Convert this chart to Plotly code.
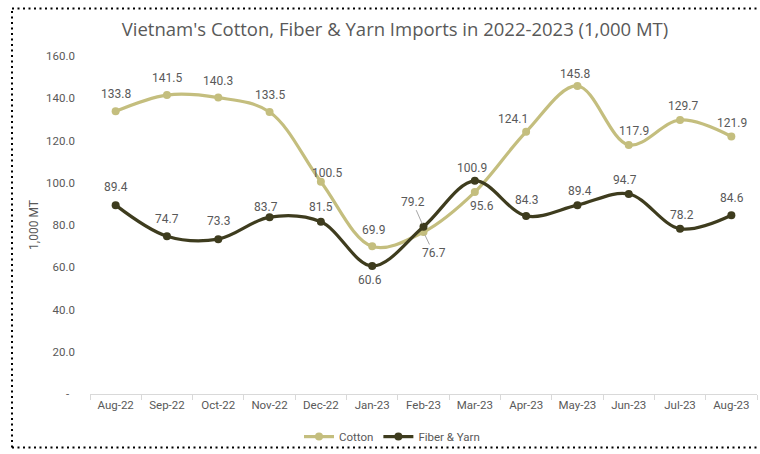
import plotly.graph_objects as go

# Monthly imports, thousand metric tonnes
months = ["Aug-22", "Sep-22", "Oct-22", "Nov-22", "Dec-22", "Jan-23", "Feb-23",
          "Mar-23", "Apr-23", "May-23", "Jun-23", "Jul-23", "Aug-23"]
cotton = [133.8, 141.5, 140.3, 133.5, 100.5, 69.9, 76.7, 95.6, 124.1, 145.8, 117.9, 129.7, 121.9]
fiber_yarn = [89.4, 74.7, 73.3, 83.7, 81.5, 60.6, 79.2, 100.9, 84.3, 89.4, 94.7, 78.2, 84.6]

y_ticks = [0, 20, 40, 60, 80, 100, 120, 140, 160]
y_tick_text = ["-\u2002"] + [f"{v:.1f}" for v in y_ticks[1:]]

# Label offsets in pixels (dx, dy), dy positive = upward
cotton_offsets = [(0, 17), (0, 17), (0, 17), (0, 17), (6, 9), (1, 16), (10, -21),
                  (7, -14), (-13, 13), (-2, 12), (5, 14), (3, 14), (1, 13)]
fiber_offsets = [(0, 18), (0, 17), (0, 18), (-4, 10), (0, 15), (-2, -14), (-11, 25),
                 (-3, 13), (0, 16), (3, 14), (-4, 14), (2, 14), (1, 17)]

COTTON_COLOR = "#C4BE7E"
FIBER_COLOR = "#3E3C1E"
TEXT_COLOR = "#595959"
LABEL_FONT = "Roboto, Liberation Sans, sans-serif"

fig = go.Figure()
fig.add_trace(go.Scatter(
    x=months, y=cotton, name="Cotton", mode="lines+markers",
    line=dict(color=COTTON_COLOR, width=3.2, shape="spline", smoothing=1.0),
    marker=dict(color=COTTON_COLOR, size=8),
))
fig.add_trace(go.Scatter(
    x=months, y=fiber_yarn, name="Fiber & Yarn", mode="lines+markers",
    line=dict(color=FIBER_COLOR, width=3.2, shape="spline", smoothing=1.0),
    marker=dict(color=FIBER_COLOR, size=8),
))

annotations = []
leader_months = {"Feb-23"}
for series, offsets in ((cotton, cotton_offsets), (fiber_yarn, fiber_offsets)):
    for m, v, (dx, dy) in zip(months, series, offsets):
        base = dict(x=m, y=v, xref="x", yref="y", text=f"{v:.1f}",
                    font=dict(family=LABEL_FONT, size=12, color=TEXT_COLOR))
        if m in leader_months:
            annotations.append(dict(base, showarrow=True, ax=dx, ay=-dy,
                                    arrowhead=0, arrowwidth=1, arrowcolor="#A6A6A6",
                                    standoff=3, startstandoff=0))
        else:
            annotations.append(dict(base, showarrow=False, xshift=dx, yshift=dy))

fig.update_layout(
    width=760, height=454,
    margin=dict(l=90, r=3, t=56, b=57),
    paper_bgcolor="white", plot_bgcolor="white",
    title=dict(text="Vietnam's Cotton, Fiber & Yarn Imports in 2022-2023 (1,000 MT)",
               x=395 / 760, xanchor="center", y=1 - 30 / 454, yanchor="middle",
               font=dict(family="Open Sans, sans-serif", size=18.5, color=TEXT_COLOR)),
    showlegend=True,
    legend=dict(orientation="h", x=(392 - 90) / 667, xanchor="center",
                y=-(440 - 397) / 341, yanchor="middle",
                font=dict(family=LABEL_FONT, size=11.5, color=TEXT_COLOR),
                itemwidth=30, tracegroupgap=0, bgcolor="rgba(0,0,0,0)"),
    annotations=annotations,
    xaxis=dict(type="category", categoryorder="array", categoryarray=months,
               range=[-0.5, 12.5], showgrid=False, zeroline=False,
               showline=True, linecolor="#D9D9D9", linewidth=1,
               ticks="outside", tickson="boundaries", ticklen=5, tickcolor="#D9D9D9",
               tickfont=dict(family=LABEL_FONT, size=11.5, color=TEXT_COLOR)),
    yaxis=dict(range=[0, 160], tickvals=y_ticks, ticktext=y_tick_text,
               showgrid=False, zeroline=False, showline=False, ticks="",
               ticklabelstandoff=14,
               tickfont=dict(family=LABEL_FONT, size=11.5, color=TEXT_COLOR),
               title=dict(text="1,000 MT", standoff=4,
                          font=dict(family=LABEL_FONT, size=12, color=TEXT_COLOR))),
)

# Dotted frame around the chart (top, left and bottom edges)
left_x = (12 - 90) / 667
right_x = (759 - 90) / 667
top_y = (397 - 8) / 341
bottom_y = (397 - 451) / 341
frame = dict(type="line", xref="paper", yref="paper",
             line=dict(color="black", width=2, dash="2px,3.5px"))
fig.add_shape(frame, x0=left_x, x1=right_x, y0=top_y, y1=top_y)
fig.add_shape(frame, x0=left_x, x1=left_x, y0=bottom_y, y1=top_y)
fig.add_shape(frame, x0=left_x, x1=right_x, y0=bottom_y, y1=bottom_y)

fig.write_html("out.html")
